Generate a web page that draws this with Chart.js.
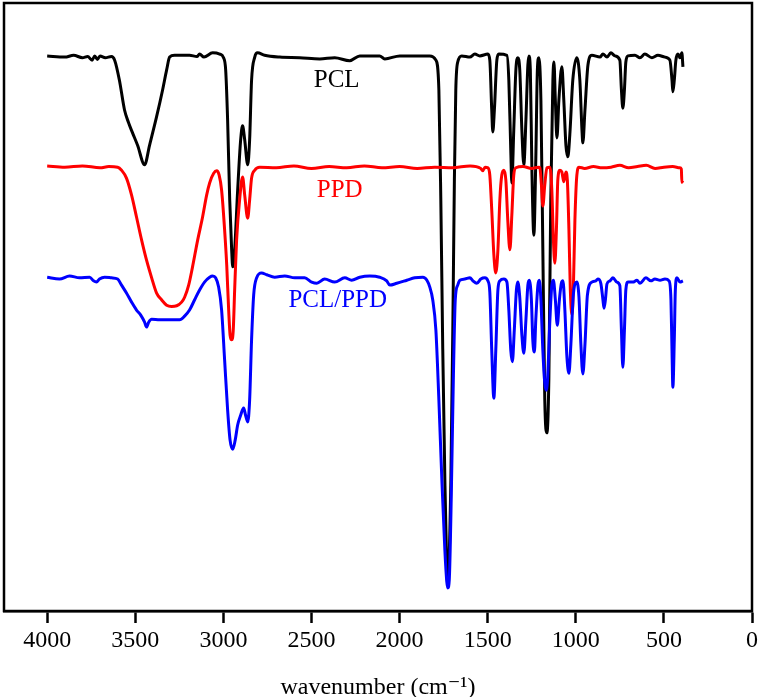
<!DOCTYPE html>
<html>
<head>
<meta charset="utf-8">
<script src="https://cdn.jsdelivr.net/npm/chart.js@4/dist/chart.umd.min.js"></script>
<style>
  html, body { margin: 0; padding: 0; background: #ffffff; }
  #wrap { width: 760px; height: 697px; }
</style>
</head>
<body>
<div id="wrap"><canvas id="c" width="760" height="697"></canvas></div>
<script>
// ---- tick labels ----
const wavenumberTicks = [0, 500, 1000, 1500, 2000, 2500, 3000, 3500, 4000];
const seriesNames = ["PCL", "PPD", "PCL/PPD"];

// ---- PCL (black) ----
const pclWn = [4000,3900,3850,3800,3770,3745,3730,3715,3700,3670,3635,3617,3590,3561,3538,3515,3487,3447,3419,3379,3345,3322,3305,3277,3192,3150,3135,3110,3061,3021,2999,2987,2976,2964,2953,2947,2936,2919,2902,2891,2879,2862,2851,2840,2822,2806,2766,2680,2567,2453,2368,2283,2226,2113,2084,1999,1829,1794,1777,1766,1755,1743,1732,1726,1721,1709,1698,1689,1681,1670,1647,1601,1573,1545,1499,1488,1477,1471,1462,1448,1437,1391,1380,1369,1363,1352,1340,1329,1318,1306,1295,1283,1272,1266,1258,1249,1238,1227,1218,1210,1198,1187,1176,1164,1153,1142,1130,1124,1116,1107,1096,1079,1068,1056,1045,1034,1017,994,977,965,960,948,931,909,863,846,823,801,778,750,741,733,724,716,704,664,636,608,568,534,494,466,454,449,441,432,420,409,398,392];
const pclT  = [91.3,91.1,91.4,91.0,91.2,90.6,91.3,90.7,91.3,91.0,91.2,90.6,87.3,82.4,80.3,78.6,76.6,73.4,76.6,81.3,85.7,89.0,91.1,91.4,91.4,91.2,91.6,91.1,91.8,91.6,91.0,89.0,80.8,67.6,59.4,56.6,59.4,69.2,77.5,79.8,77.5,73.4,77.5,87.3,91.1,91.8,91.4,91.1,91.0,90.8,91.0,90.5,91.3,91.3,90.8,91.3,91.3,90.6,85.7,67.6,43.1,21.5,6.7,4.6,6.7,21.5,46.2,70.9,85.7,90.3,91.3,91.1,91.6,91.3,91.6,90.6,82.4,78.8,82.4,90.6,91.6,91.4,87.3,75.8,70.4,79.1,89.0,91.0,89.0,79.1,73.4,80.8,89.8,91.3,89.0,72.5,61.8,74.2,89.0,91.0,84.0,59.4,34.7,29.3,38.0,67.6,87.3,90.3,84.0,77.8,84.0,89.5,84.0,76.6,74.7,78.3,87.3,91.0,87.3,79.1,77.0,82.4,89.8,91.4,91.1,91.6,91.1,91.8,91.3,90.6,85.7,82.7,85.7,90.3,91.3,91.4,91.0,91.6,91.0,91.4,91.1,90.6,87.3,85.4,87.3,90.6,91.6,91.0,91.8,89.5];

// ---- PPD (red) ----
const ppdWn = [4000,3900,3800,3700,3650,3600,3578,3550,3521,3493,3464,3436,3407,3379,3351,3322,3294,3265,3237,3220,3197,3175,3146,3118,3095,3078,3055,3038,3024,3010,2993,2981,2970,2962,2953,2944,2936,2925,2908,2891,2879,2862,2851,2840,2822,2794,2700,2600,2500,2400,2300,2200,2100,2000,1900,1800,1700,1600,1540,1528,1515,1499,1488,1477,1465,1454,1442,1431,1420,1408,1397,1386,1374,1363,1352,1340,1300,1250,1210,1204,1195,1187,1176,1164,1147,1136,1127,1119,1110,1102,1090,1079,1068,1056,1048,1039,1031,1022,1014,1005,994,982,950,900,850,800,750,700,650,600,550,500,450,410,401,398,393];
const ppdT  = [73.2,73.0,73.2,72.9,73.1,73.0,72.5,71.2,68.4,64.8,61.0,57.7,54.8,52.3,51.2,50.3,50.1,50.2,50.8,51.6,53.6,56.6,61.0,64.8,68.4,70.4,72.0,72.4,71.7,69.2,62.7,56.9,49.5,45.4,44.6,46.2,52.8,61.0,67.6,71.4,68.4,64.6,67.6,71.2,72.5,73.0,72.9,73.2,72.8,73.1,72.9,73.2,72.9,73.1,72.8,73.0,72.9,73.2,72.8,72.4,73.0,72.9,71.7,66.0,58.6,55.6,59.4,67.6,71.7,72.5,70.9,64.3,59.4,65.1,71.7,72.9,73.1,72.8,73.0,72.9,70.1,66.6,70.1,72.9,73.0,69.2,61.0,57.2,62.7,70.9,72.5,72.2,70.6,72.2,70.9,62.7,52.8,48.7,52.8,64.3,71.7,73.0,72.8,73.1,72.9,73.0,73.3,72.9,73.1,73.3,72.8,73.0,73.1,72.9,72.7,70.5,70.8];

// ---- PCL/PPD (blue) ----
const blendWn = [4000,3930,3873,3816,3759,3737,3720,3703,3674,3635,3600,3578,3550,3521,3493,3470,3447,3436,3424,3407,3362,3305,3248,3220,3192,3163,3135,3107,3078,3061,3044,3027,3010,2993,2976,2962,2947,2933,2919,2902,2885,2874,2862,2851,2840,2828,2811,2783,2754,2709,2652,2595,2539,2499,2470,2425,2368,2311,2272,2226,2169,2113,2073,2056,2016,1959,1914,1868,1845,1829,1812,1794,1777,1760,1743,1732,1726,1718,1707,1695,1684,1670,1658,1630,1601,1584,1562,1539,1516,1499,1488,1477,1465,1454,1442,1431,1408,1391,1380,1369,1360,1349,1337,1329,1318,1306,1295,1283,1272,1264,1252,1244,1235,1227,1215,1207,1198,1187,1176,1167,1159,1147,1136,1127,1116,1105,1093,1082,1073,1062,1051,1039,1028,1014,994,982,971,960,948,934,909,886,875,858,846,840,832,823,806,789,767,750,741,733,724,716,704,676,653,636,602,574,551,522,494,471,460,454,449,441,435,426,409,392];
const blendT  = [54.9,54.6,55.1,54.8,54.9,54.3,54.1,54.6,54.9,54.8,54.6,53.6,52.3,50.8,49.5,48.7,47.5,46.7,47.5,48.0,47.9,47.9,47.9,48.5,49.5,51.2,52.8,54.1,54.9,55.1,54.8,53.3,49.5,41.3,33.1,28.1,26.6,28.1,30.6,32.2,33.4,32.2,31.1,34.7,44.6,52.0,54.8,55.6,55.3,54.9,55.1,54.8,54.8,54.1,53.9,54.6,54.1,54.8,54.4,54.9,55.1,54.9,54.3,53.6,53.9,54.4,54.8,54.9,54.4,53.3,51.2,46.2,34.7,21.5,10.0,4.8,3.8,5.1,18.3,38.0,51.2,53.6,54.4,54.6,54.8,54.3,53.9,54.6,54.8,54.3,52.5,42.9,35.0,42.9,52.8,54.3,54.6,54.1,49.5,42.9,41.0,46.2,52.8,54.1,51.6,45.4,42.4,47.9,53.6,54.4,51.2,44.6,42.6,47.9,53.6,54.4,51.2,42.9,37.5,36.3,38.8,47.9,53.6,54.4,51.2,47.0,51.2,53.9,54.3,49.5,42.1,39.1,43.8,52.0,54.1,51.6,43.8,39.0,43.8,52.0,54.1,54.3,54.6,53.9,51.2,49.8,51.2,53.8,54.3,54.8,54.1,53.5,46.2,40.1,46.2,52.8,54.1,54.1,54.4,53.9,54.8,54.3,54.6,54.4,54.6,54.3,51.2,42.9,36.8,44.6,52.8,54.8,54.1,54.3];

function pts(xs, ys) { return xs.map((x, i) => ({ x: x, y: ys[i] })); }

const SERIF = "'Liberation Serif', 'Times New Roman', 'DejaVu Serif', serif";

const framePlugin = {
  id: 'frameAndLabels',
  afterDatasetsDraw(chart) {
    const { ctx, chartArea: a, scales } = chart;
    ctx.save();
    ctx.strokeStyle = '#000';
    ctx.lineWidth = 2.5;
    ctx.strokeRect(a.left, a.top, a.right - a.left, a.bottom - a.top);
    const labels = [
      { text: seriesNames[0], color: '#000000', wn: 2357, t: 87.2 },
      { text: seriesNames[1], color: '#ff0000', wn: 2340, t: 69.2 },
      { text: seriesNames[2], color: '#0000ff', wn: 2351, t: 51.0 }
    ];
    ctx.font = '25px ' + SERIF;
    ctx.textAlign = 'center';
    ctx.textBaseline = 'middle';
    labels.forEach(l => {
      ctx.fillStyle = l.color;
      ctx.fillText(l.text, scales.x.getPixelForValue(l.wn), scales.y.getPixelForValue(l.t));
    });
    ctx.restore();
  }
};

new Chart(document.getElementById('c'), {
  type: 'line',
  data: {
    datasets: [
      { label: seriesNames[0], data: pts(pclWn, pclT), borderColor: '#000000', order: 3 },
      { label: seriesNames[1], data: pts(ppdWn, ppdT), borderColor: '#ff0000', order: 2 },
      { label: seriesNames[2], data: pts(blendWn, blendT), borderColor: '#0000ff', order: 1 }
    ]
  },
  options: {
    responsive: false,
    animation: false,
    devicePixelRatio: 1,
    parsing: false,
    layout: { padding: { left: 4, right: 8, top: 3, bottom: 0 } },
    elements: {
      point: { radius: 0 },
      line: { borderWidth: 3, cubicInterpolationMode: 'monotone', fill: false }
    },
    plugins: { legend: { display: false }, tooltip: { enabled: false } },
    scales: {
      x: {
        type: 'linear',
        reverse: true,
        min: 0,
        max: 4245,
        afterBuildTicks(scale) { scale.ticks = wavenumberTicks.map(v => ({ value: v })); },
        afterFit(scale) { scale.height = 86; },
        ticks: { color: '#000', font: { family: SERIF, size: 24 }, padding: 3, maxRotation: 0, autoSkip: false, callback: v => String(v) },
        grid: { display: true, drawOnChartArea: false, drawTicks: true, tickLength: 12, tickWidth: 2.5, tickColor: '#000', color: '#000' },
        border: { display: true, color: '#000', width: 2.5 },
        title: { display: true, text: 'wavenumber (cm\u207B\u00B9)', color: '#000', font: { family: SERIF, size: 24, lineHeight: 0.75 }, padding: { top: 0, bottom: 0 } }
      },
      y: {
        display: false,
        min: 0,
        max: 100
      }
    }
  },
  plugins: [framePlugin]
});
</script>
</body>
</html>
